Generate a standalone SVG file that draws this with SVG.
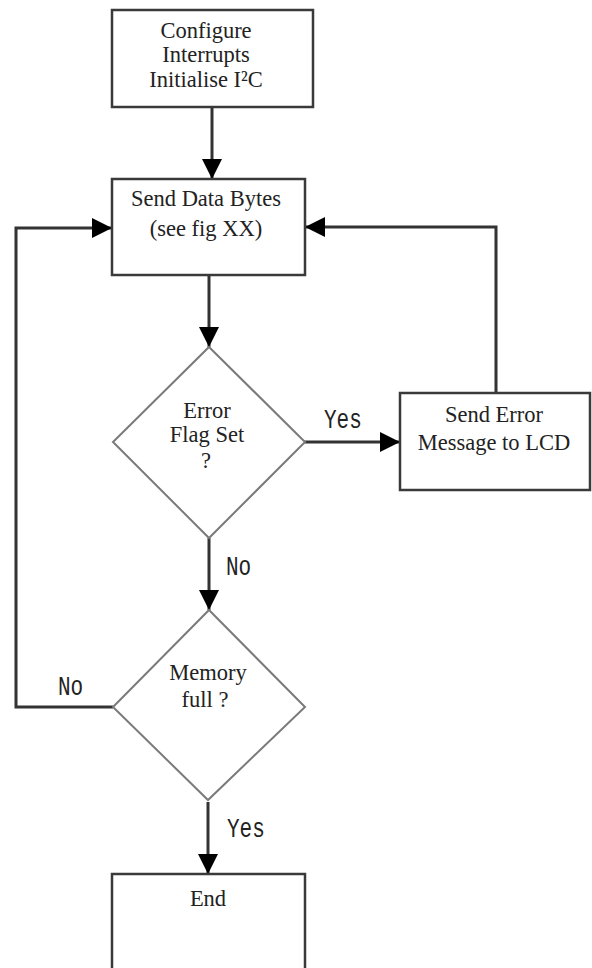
<svg xmlns="http://www.w3.org/2000/svg" width="592" height="968" viewBox="0 0 592 968">
<style>
.box{fill:#fff;stroke:#3a3a3a;stroke-width:2.5}
.dia{fill:#fff;stroke:#7a7a7a;stroke-width:2}
.t{font-family:"Liberation Serif","Times New Roman",serif;font-size:22.5px;fill:#222;text-anchor:middle}
.lbl{font-family:"Liberation Mono","Courier New",monospace;font-size:21px;fill:#222}
.c{fill:none;stroke:#333;stroke-width:3}
</style>
<defs>
<marker id="ah" markerUnits="userSpaceOnUse" markerWidth="20" markerHeight="20" refX="20" refY="10" orient="auto">
<path d="M0,0 L20,10 L0,20 Z" fill="#000"/>
</marker>
</defs>
<rect width="592" height="968" fill="#fff"/>
<g id="connectors">
<path class="c" d="M212,107 V179" marker-end="url(#ah)"/>
<path class="c" d="M209,275 V347" marker-end="url(#ah)"/>
<path class="c" d="M209,538 V610" marker-end="url(#ah)"/>
<path class="c" d="M208,802 V874" marker-end="url(#ah)"/>
<path class="c" d="M304,442 H400" marker-end="url(#ah)"/>
<path class="c" d="M496,393 V227 H305" marker-end="url(#ah)"/>
<path class="c" d="M113,707 H16 V228 H112" marker-end="url(#ah)"/>
<text class="lbl" transform="translate(324,428) scale(1,1.35)">Yes</text>
<text class="lbl" transform="translate(226,575) scale(1,1.35)">No</text>
<text class="lbl" transform="translate(58,695) scale(1,1.35)">No</text>
<text class="lbl" transform="translate(227,837) scale(1,1.35)">Yes</text>
</g>
<g id="init">
<rect class="box" x="112" y="10" width="201" height="97"/>
<text class="t" x="206" y="38">Configure</text>
<text class="t" x="206" y="62">Interrupts</text>
<text class="t" x="206" y="87">Initialise I²C</text>
</g>
<g id="send">
<rect class="box" x="112" y="179" width="193" height="96"/>
<text class="t" x="206" y="206">Send Data Bytes</text>
<text class="t" x="206" y="236">(see fig XX)</text>
</g>
<g id="errorflag">
<polygon class="dia" points="209,347 305,442 209,538 113,442"/>
<text class="t" x="207" y="418">Error</text>
<text class="t" x="207" y="442">Flag Set</text>
<text class="t" x="206" y="468">?</text>
</g>
<g id="senderror">
<rect class="box" x="400" y="393" width="190" height="97"/>
<text class="t" x="494" y="422">Send Error</text>
<text class="t" x="494" y="450">Message to LCD</text>
</g>
<g id="memory">
<polygon class="dia" points="209,610 305,707 208,800 113,707"/>
<text class="t" x="208" y="680">Memory</text>
<text class="t" x="205" y="707">full ?</text>
</g>
<g id="end">
<rect class="box" x="112" y="874" width="193" height="110"/>
<text class="t" x="208" y="906">End</text>
</g>
</svg>
